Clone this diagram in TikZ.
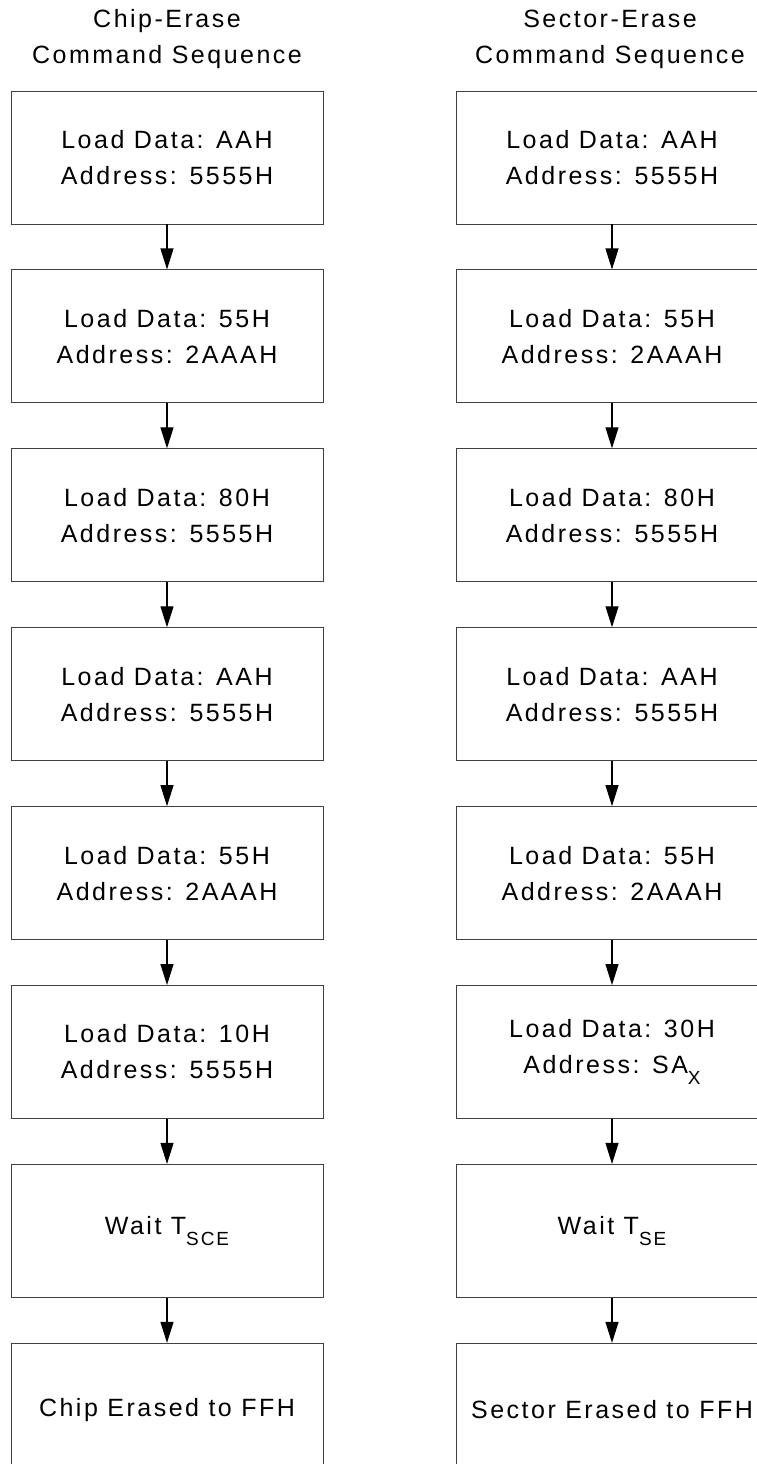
\documentclass[tikz,border=0pt]{standalone}
\usepackage{fontspec}
\usetikzlibrary{arrows.meta,positioning}
\newfontfamily\boxfont{Liberation Sans}[LetterSpace=10]
\newcommand{\lowsub}[1]{\raisebox{-11pt}{\fontsize{19}{19}\selectfont #1}}

\begin{document}
\begin{tikzpicture}[->,>={Triangle[width=13pt,length=21pt]},x=1pt,y=1pt,
  node distance=45pt,line width=1.1pt,
  title node/.style={anchor=north,inner sep=0pt,align=center,font=\boxfont\fontsize{25}{36}\selectfont},
  step box/.style={rectangle,draw=black!75,line width=0.9pt,minimum width=312pt,
    minimum height=133pt,align=center,font=\boxfont\fontsize{25}{36}\selectfont}]

  \useasboundingbox (0,0) rectangle (757,-1464);

  % chip erase column
  \node[title node] (ctitle) at (167,-9) {Chip-Erase\\Command Sequence};
  \node[step box] (c1) at (167,-157.5) {Load Data: AAH\\Address: 5555H};
  \node[step box] (c2) [below=of c1] {Load Data: 55H\\Address: 2AAAH};
  \node[step box] (c3) [below=of c2] {Load Data: 80H\\Address: 5555H};
  \node[step box] (c4) [below=of c3] {Load Data: AAH\\Address: 5555H};
  \node[step box] (c5) [below=of c4] {Load Data: 55H\\Address: 2AAAH};
  \node[step box] (c6) [below=of c5] {Load Data: 10H\\Address: 5555H};
  \node[step box] (c7) [below=of c6] {Wait T\lowsub{SCE}};
  \node[step box] (c8) [below=of c7] {Chip Erased to FFH};

  % sector erase column
  \node[title node] (stitle) at (610,-9) {Sector-Erase\\Command Sequence};
  \node[step box] (s1) at (612,-157.5) {Load Data: AAH\\Address: 5555H};
  \node[step box] (s2) [below=of s1] {Load Data: 55H\\Address: 2AAAH};
  \node[step box] (s3) [below=of s2] {Load Data: 80H\\Address: 5555H};
  \node[step box] (s4) [below=of s3] {Load Data: AAH\\Address: 5555H};
  \node[step box] (s5) [below=of s4] {Load Data: 55H\\Address: 2AAAH};
  \node[step box] (s6) [below=of s5] {Load Data: 30H\\Address: SA\lowsub{X}};
  \node[step box] (s7) [below=of s6] {Wait T\lowsub{SE}};
  \node[step box] (s8) [below=of s7] {Sector Erased to FFH};

  \foreach \i [count=\j from 2] in {1,...,7} {
    \draw (c\i) -- (c\j);
    \draw (s\i) -- (s\j);
  }
\end{tikzpicture}
\end{document}
